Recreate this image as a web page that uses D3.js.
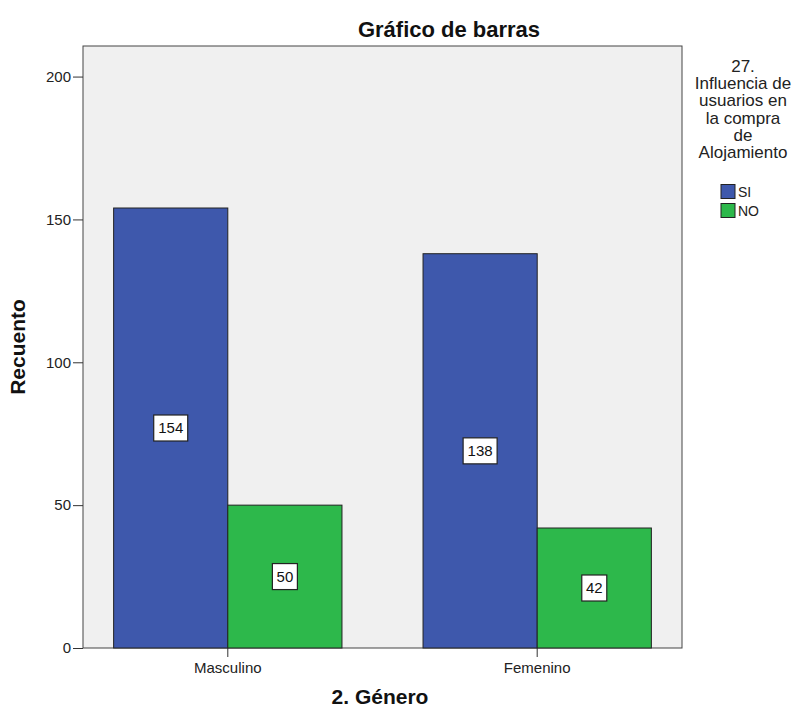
<!DOCTYPE html>
<html><head><meta charset="utf-8">
<script src="https://cdn.jsdelivr.net/npm/d3@7"></script>
<style>body{margin:0;background:#fff;} svg{display:block;font-family:"Liberation Sans",Arial,sans-serif;}</style>
</head><body>
<svg id="c" width="796" height="711"></svg>
<script>
const categories = ["Masculino", "Femenino"];
const seriesNames = ["SI", "NO"];
const siValues = [154, 138];
const noValues = [50, 42];
const yTicks = [0, 50, 100, 150, 200];
const legendTitle = ["27.", "Influencia de", "usuarios en", "la compra", "de", "Alojamiento"];
const colors = {SI: "#3e58ac", NO: "#2db84b"};

const FF = '"Liberation Sans",Arial,sans-serif';
const svg = d3.select("#c");
const L = 83, R = 682, T = 46, B = 648;

const y = d3.scaleLinear().domain([0, 210.7]).range([B, T]);
const x0 = d3.scaleBand().domain(categories).range([L, R]).paddingInner(0.262).paddingOuter(0.099);
const x1 = d3.scaleBand().domain(seriesNames).range([0, x0.bandwidth()]);

svg.append("rect").attr("x", L).attr("y", T).attr("width", R - L).attr("height", B - T)
  .attr("fill", "#f0f0f0").attr("stroke", "#444").attr("stroke-width", 1);

const data = [];
categories.forEach((c, i) => {
  data.push({cat: c, s: "SI", v: siValues[i]});
  data.push({cat: c, s: "NO", v: noValues[i]});
});

svg.append("g").selectAll("rect").data(data).join("rect")
  .attr("x", d => x0(d.cat) + x1(d.s))
  .attr("y", d => y(d.v))
  .attr("width", x1.bandwidth())
  .attr("height", d => y(0) - y(d.v))
  .attr("fill", d => colors[d.s])
  .attr("stroke", "#222").attr("stroke-width", 1);

// value labels
const lab = svg.append("g").selectAll("g").data(data).join("g")
  .attr("transform", d => `translate(${x0(d.cat) + x1(d.s) + x1.bandwidth() / 2},${y(d.v / 2)})`);
lab.append("rect")
  .attr("x", d => d.v >= 100 ? -17 : -12.5).attr("y", -13)
  .attr("width", d => d.v >= 100 ? 34 : 25).attr("height", 26)
  .attr("fill", "#fff").attr("stroke", "#222").attr("stroke-width", 1.2);
lab.append("text").attr("text-anchor", "middle").attr("dy", "0.36em")
  .attr("font-size", 15).attr("fill", "#111").text(d => d.v);

// y axis
const ya = svg.append("g").attr("transform", `translate(${L},0)`)
  .call(d3.axisLeft(y).tickValues(yTicks).tickSize(10).tickPadding(2).tickSizeOuter(0));
ya.select(".domain").remove();
ya.selectAll("line").attr("stroke", "#333");
ya.selectAll("text").attr("font-size", 15).attr("fill", "#222").attr("font-family", FF);

// x axis
const xa = svg.append("g").attr("transform", `translate(0,${B})`)
  .call(d3.axisBottom(x0).tickSize(9).tickPadding(5).tickSizeOuter(0));
xa.select(".domain").remove();
xa.selectAll("line").attr("stroke", "#333");
xa.selectAll("text").attr("font-size", 15).attr("fill", "#222").attr("font-family", FF);

// titles
svg.append("text").attr("x", 449).attr("y", 37).attr("text-anchor", "middle")
  .attr("font-size", 22).attr("font-weight", "bold").attr("fill", "#111").text("Gráfico de barras");
svg.append("text").attr("transform", "translate(25,347) rotate(-90)").attr("text-anchor", "middle")
  .attr("font-size", 21).attr("font-weight", "bold").attr("fill", "#111").text("Recuento");
svg.append("text").attr("x", 380).attr("y", 704).attr("text-anchor", "middle")
  .attr("font-size", 21).attr("font-weight", "bold").attr("fill", "#111").text("2. Género");

// legend
const lg = svg.append("g");
lg.selectAll("text.t").data(legendTitle).join("text").attr("class", "t")
  .attr("x", 743).attr("y", (d, i) => 72 + i * 17.2).attr("text-anchor", "middle")
  .attr("font-size", 17).attr("fill", "#222").text(d => d);
const li = lg.selectAll("g.i").data(seriesNames).join("g").attr("class", "i")
  .attr("transform", (d, i) => `translate(721,${184.5 + i * 19})`);
li.append("rect").attr("width", 14).attr("height", 14).attr("fill", d => colors[d]).attr("stroke", "#222");
li.append("text").attr("x", 17).attr("y", 12.5).attr("font-size", 14).attr("fill", "#222").text(d => d);
</script>
</body></html>
